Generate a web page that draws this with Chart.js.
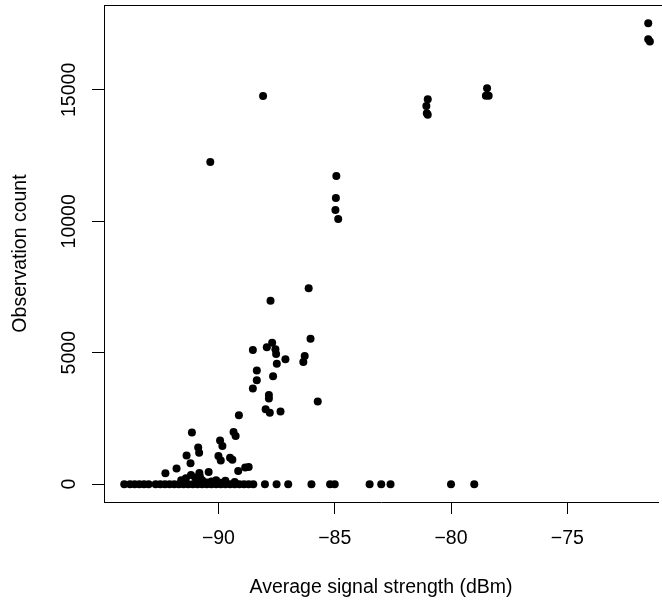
<!DOCTYPE html>
<html><head><meta charset="utf-8">
<script src="https://cdn.jsdelivr.net/npm/chart.js@4"></script>
<style>html,body{margin:0;padding:0;background:#fff;overflow:hidden}</style>
</head><body>
<canvas id="c" width="662" height="604"></canvas>
<script>
const signalStrength = [
  // zero row
  -94.05,-93.8,-93.6,-93.4,-93.2,-93.0,-92.7,-92.5,-92.3,-92.1,-91.9,-91.7,-91.5,-91.3,-91.1,-90.9,-90.7,-90.5,-90.3,-90.1,-89.9,-89.7,-89.5,-89.3,-89.1,-88.9,-88.7,-88.5,-88.0,-87.5,-87.0,-86.0,-85.2,-85.0,-83.5,-83.0,-82.6,-80.0,-79.0,
  // near zero
  -91.6,-91.4,-91.0,-90.7,-90.1,-89.7,-90.9,-90.5,-90.3,-89.9,-89.3,-90.8,
  // low
  -92.28,-91.8,-91.37,-91.2,-91.14,-91.18,-90.87,-90.83,-90.82,-90.42,-90.0,-89.9,-89.93,-89.83,-89.5,-89.4,-89.35,-89.26,-89.15,-88.85,-88.7,-89.12,
  // middle
  -88.52,-88.35,-88.35,-88.52,-87.97,-87.79,-87.33,-87.83,-87.83,-87.65,-87.49,-87.12,-87.52,-87.55,-87.92,-87.69,-87.76,-86.12,-86.04,-86.29,-86.35,-85.73,
  // high
  -88.08,-90.35,-84.93,-84.95,-84.97,-84.85,-81.0,-81.06,-81.04,-81.0,-78.45,-78.5,-78.38,-71.52,-71.52,-71.45
];
const observationCount = [
  0,0,0,0,0,0,0,0,0,0,0,0,0,0,0,0,0,0,0,0,0,0,0,0,0,0,0,0,0,0,0,0,0,0,0,0,0,0,0,
  150,220,255,150,150,126,90,60,100,50,80,300,
  410,590,1090,790,1968,343,1397,1192,420,460,1066,900,1660,1447,1000,930,1980,1830,500,630,650,2620,
  3643,3948,4328,5101,2850,2715,2766,3388,3262,4100,4580,4747,4949,5128,5204,5380,6979,7450,5532,4873,4645,3148,
  14771,12259,11726,10888,10431,10088,14646,14390,14113,14050,15060,14780,14780,17539,16930,16840
];
const xTicks = [-90, -85, -80, -75];
const yTicks = [0, 5000, 10000, 15000];
const xLabel = 'Average signal strength (dBm)';
const yLabel = 'Observation count';

const FONT = "'Liberation Sans', Arial, Helvetica, sans-serif";
const FS = 19.5;
const fmt = v => String(v).replace('-', '\u2212');

const points = signalStrength.map((x, i) => ({x: x, y: observationCount[i]}));

const boxAndLabels = {
  id: 'boxAndLabels',
  afterDraw(chart) {
    const {ctx, chartArea: a} = chart;
    const ys = chart.scales.y;
    ctx.save();
    ctx.strokeStyle = '#000';
    ctx.lineWidth = 1;
    ctx.beginPath();
    ctx.moveTo(a.left, a.top + 0.5);
    ctx.lineTo(chart.width, a.top + 0.5);
    ctx.stroke();
    ctx.fillStyle = '#000';
    ctx.font = FS + 'px ' + FONT;
    ctx.textAlign = 'center';
    ctx.textBaseline = 'alphabetic';
    yTicks.forEach(v => {
      const py = ys.getPixelForValue(v);
      ctx.save();
      ctx.translate(75, py);
      ctx.rotate(-Math.PI / 2);
      ctx.fillText(fmt(v), 0, 0);
      ctx.restore();
    });
    ctx.restore();
  }
};

new Chart(document.getElementById('c'), {
  type: 'scatter',
  data: {
    datasets: [{
      data: points,
      pointRadius: 4,
      pointHoverRadius: 4,
      pointBackgroundColor: '#000',
      pointBorderWidth: 0,
      clip: false
    }]
  },
  options: {
    responsive: false,
    animation: false,
    devicePixelRatio: 1,
    layout: {padding: {top: 5, right: 0, left: 0, bottom: 0}},
    plugins: {legend: {display: false}, tooltip: {enabled: false}},
    scales: {
      x: {
        type: 'linear',
        min: -94.92,
        max: -71.10,
        afterBuildTicks: s => { s.ticks = xTicks.map(v => ({value: v})); },
        afterFit: s => { s.height = 102; },
        grid: {drawOnChartArea: false, drawTicks: true, tickLength: 12, color: '#000', lineWidth: 1},
        border: {display: true, color: '#000', width: 1},
        ticks: {color: '#000', padding: 13, font: {family: FONT, size: FS}, callback: v => fmt(v), maxRotation: 0},
        title: {display: true, text: xLabel, color: '#000', font: {family: FONT, size: FS}, padding: {top: 0, bottom: 5}}
      },
      y: {
        type: 'linear',
        min: -680,
        max: 18230,
        afterBuildTicks: s => { s.ticks = yTicks.map(v => ({value: v})); },
        afterFit: s => { s.width = 104; },
        grid: {drawOnChartArea: false, drawTicks: true, tickLength: 12, color: '#000', lineWidth: 1},
        border: {display: true, color: '#000', width: 1},
        ticks: {display: false},
        title: {display: true, text: yLabel, color: '#000', font: {family: FONT, size: FS}, padding: {top: 9, bottom: 0}}
      }
    }
  },
  plugins: [boxAndLabels]
});
</script>
</body></html>
